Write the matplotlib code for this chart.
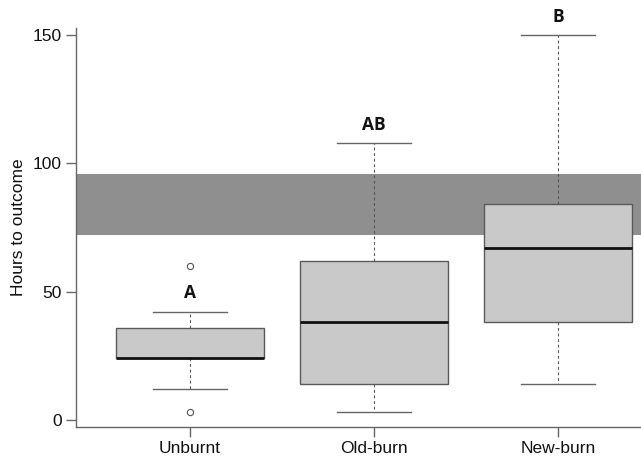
import matplotlib
matplotlib.use("Agg")
import matplotlib.pyplot as plt

# Group summaries (hours to outcome)
categories = ["Unburnt", "Old-burn", "New-burn"]
q1 = [24, 14, 38]
medians = [24, 38, 67]
q3 = [36, 62, 84]
whisker_low = [12, 3, 14]
whisker_high = [42, 108, 150]
outliers = [[60, 3], [], []]
letters = ["A", "AB", "B"]
letter_y = [49.6, 115, 157]
band_low, band_high = 72, 96

plt.rcParams["font.family"] = ["Liberation Sans", "DejaVu Sans"]

fig = plt.figure(figsize=(6.41, 4.58), dpi=100)
W, H = 641, 458
left, right, top, bottom = 76, 672, 28, 427
ax = fig.add_axes([left / W, (H - bottom) / H, (right - left) / W, (bottom - top) / H])

stats = []
for i, name in enumerate(categories):
    stats.append(dict(label=name, med=medians[i], q1=q1[i], q3=q3[i],
                      whislo=whisker_low[i], whishi=whisker_high[i],
                      fliers=outliers[i]))

positions = list(range(1, len(categories) + 1))
ax.axhspan(band_low, band_high, color="#8f8f8f", lw=0, zorder=0)
ax.bxp(stats, positions=positions, widths=0.8, patch_artist=True,
       boxprops=dict(facecolor="#c9c9c9", edgecolor="#5a5a5a", linewidth=1.0),
       medianprops=dict(color="#111111", linewidth=2.0),
       whiskerprops=dict(color="#555555", linewidth=0.8, linestyle=(0, (2.5, 2.5))),
       capprops=dict(color="#666666", linewidth=1.0),
       flierprops=dict(marker="o", markersize=4.5, markerfacecolor="white",
                       markeredgecolor="#555555", markeredgewidth=0.8),
       capwidths=0.4, zorder=2)

for x, lab, y in zip(positions, letters, letter_y):
    ax.text(x, y, lab, ha="center", va="center", fontsize=12.5, fontweight="bold",
            family=["Open Sans", "DejaVu Sans"], color="#111111", clip_on=False)

ax.set_xlim(0.38, 3.62)
ax.set_ylim(-2.73, 152.7)
ax.set_yticks([0, 50, 100, 150])
ax.set_xticks(positions)
ax.set_xticklabels(categories)
ax.set_ylabel("Hours to outcome", fontsize=12.5, color="#111111", labelpad=5)

for side in ("top", "right"):
    ax.spines[side].set_visible(False)
for side in ("left", "bottom"):
    ax.spines[side].set_color("#666666")
    ax.spines[side].set_linewidth(1.0)
ax.tick_params(axis="both", length=7, width=1.0, color="#666666",
               labelsize=12.5, labelcolor="#111111", pad=3)

fig.savefig("out.png", dpi=100)
